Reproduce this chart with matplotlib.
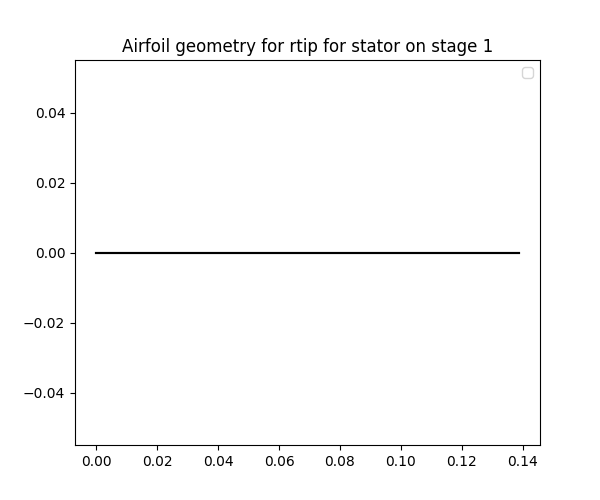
import matplotlib
matplotlib.use('Agg')
import matplotlib.pyplot as plt
import numpy as np

# camber/surface coordinates (flat airfoil)
x_surface = [0.0, 0.0347, 0.0694, 0.1040, 0.1387]
y_upper = [0.0, 0.0, 0.0, 0.0, 0.0]
y_lower = [0.0, 0.0, 0.0, 0.0, 0.0]

fig, ax = plt.subplots(figsize=(6, 5), dpi=100)
ax.plot(x_surface, y_upper, color='k')
ax.plot(x_surface, y_lower, color='k')
ax.set_title('Airfoil geometry for rtip for stator on stage 1')
ax.legend()
fig.savefig('out.png')
